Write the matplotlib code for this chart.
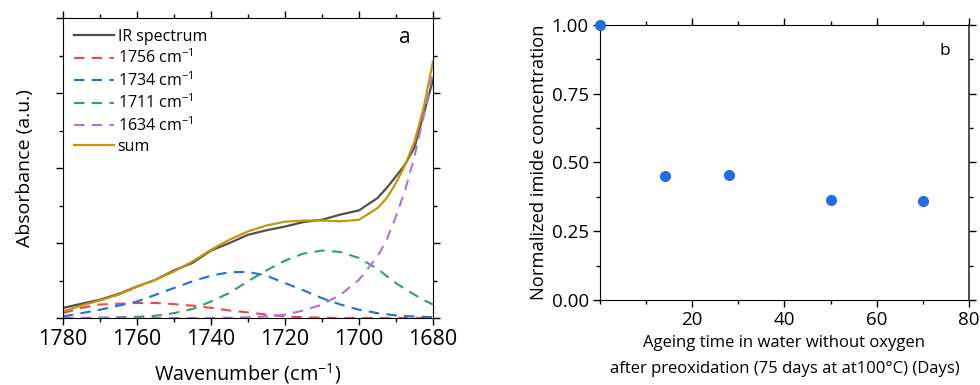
import matplotlib
matplotlib.use('Agg')
import matplotlib.pyplot as plt
from matplotlib.ticker import MultipleLocator, NullFormatter

plt.rcParams['font.family'] = ['Open Sans', 'DejaVu Sans']
plt.rcParams['mathtext.fontset'] = 'custom'
plt.rcParams['mathtext.rm'] = 'Open Sans'
plt.rcParams['mathtext.it'] = 'Open Sans'

# panel a: IR spectrum deconvolution (absorbance in arbitrary units)
wavenumber = [1780, 1775, 1770, 1765, 1760, 1755, 1750, 1745, 1740, 1735, 1730,
              1725, 1720, 1715, 1710, 1705, 1700, 1695, 1692.5, 1690, 1687.5,
              1685, 1682.5, 1680]
ir_spectrum = [0.27, 0.38, 0.49, 0.64, 0.84, 1.02, 1.27, 1.47, 1.80, 2.00, 2.22,
               2.34, 2.44, 2.56, 2.62, 2.76, 2.87, 3.20, 3.47, 3.78, 4.10,
               4.55, 5.45, 6.35]
peak_1756 = [0.13, 0.27, 0.36, 0.38, 0.40, 0.40, 0.37, 0.33, 0.27, 0.20, 0.15,
             0.09, 0.04, 0.02, 0.01, 0.0, 0.0, 0.0, 0.0, 0.0, 0.0,
             0.0, 0.0, 0.0]
peak_1734 = [0.04, 0.13, 0.22, 0.33, 0.44, 0.62, 0.80, 0.98, 1.13, 1.22, 1.23,
             1.13, 0.93, 0.74, 0.53, 0.36, 0.22, 0.13, 0.10, 0.07, 0.05,
             0.04, 0.03, 0.02]
peak_1711 = [0.0, 0.0, 0.01, 0.02, 0.03, 0.06, 0.13, 0.24, 0.44, 0.67, 0.98,
             1.27, 1.53, 1.72, 1.80, 1.76, 1.60, 1.31, 1.12, 0.93, 0.77,
             0.62, 0.48, 0.36]
peak_1634 = [0.0, 0.0, 0.0, 0.0, 0.0, 0.0, 0.0, 0.0, 0.0, 0.01, 0.02,
             0.04, 0.09, 0.20, 0.36, 0.62, 1.02, 1.64, 2.09, 2.71, 3.42,
             4.31, 5.38, 6.55]
fit_sum = [0.18, 0.33, 0.47, 0.62, 0.83, 1.02, 1.24, 1.51, 1.82, 2.09, 2.31,
           2.47, 2.57, 2.60, 2.60, 2.58, 2.62, 2.93, 3.20, 3.60, 4.09,
           4.70, 5.62, 6.84]

# panel b: normalized imide concentration
ageing_days = [0, 14, 28, 50, 70]
imide_conc = [1.0, 0.451, 0.456, 0.362, 0.361]

fig = plt.figure(figsize=(9.8, 3.85), dpi=100)
ax1 = fig.add_axes([0.0643, 0.174, 0.3775, 0.779])
ax2 = fig.add_axes([0.6122, 0.2208, 0.3766, 0.7143])

ax1.plot(wavenumber, ir_spectrum, color='#505050', lw=1.6, label='IR spectrum')
ax1.plot(wavenumber, peak_1756, color='#f04848', lw=1.5, dashes=(5, 3.5), label='1756 cm$^{-1}$')
ax1.plot(wavenumber, peak_1734, color='#1f6fe0', lw=1.5, dashes=(5, 3.5), label='1734 cm$^{-1}$')
ax1.plot(wavenumber, peak_1711, color='#2ea35e', lw=1.5, dashes=(5, 3.5), label='1711 cm$^{-1}$')
ax1.plot(wavenumber, peak_1634, color='#b070e0', lw=1.5, dashes=(5, 3.5), label='1634 cm$^{-1}$')
ax1.plot(wavenumber, fit_sum, color='#c8960a', lw=1.6, label='sum')

ax1.set_xlim(1780, 1680)
ax1.set_ylim(0, 8)
ax1.xaxis.set_major_locator(MultipleLocator(20))
ax1.xaxis.set_minor_locator(MultipleLocator(10))
ax1.yaxis.set_major_locator(MultipleLocator(2))
ax1.yaxis.set_minor_locator(MultipleLocator(1))
ax1.yaxis.set_major_formatter(NullFormatter())
ax1.tick_params(which='both', direction='out', top=True, right=True, width=1)
ax1.tick_params(which='major', length=5, labelsize=15.5, pad=3)
ax1.tick_params(which='minor', length=3)
ax1.set_xlabel('Wavenumber (cm$^{-1}$)', fontsize=14.3, labelpad=8)
ax1.set_ylabel('Absorbance (a.u.)', fontsize=14, labelpad=13)
ax1.text(0.925, 0.935, 'a', transform=ax1.transAxes, fontsize=15, ha='center', va='center')
ax1.legend(loc='upper left', bbox_to_anchor=(0.02, 0.975), frameon=False, fontsize=11.5,
           handlelength=2.5, handletextpad=0.25, labelspacing=0.24, borderpad=0.2,
           borderaxespad=0)

ax2.plot(ageing_days, imide_conc, 'o', color='#1f6fe0', ms=7, clip_on=False, zorder=5)
ax2.set_xlim(0, 80)
ax2.set_ylim(0, 1.0)
ax2.xaxis.set_major_locator(MultipleLocator(20))
ax2.xaxis.set_minor_locator(MultipleLocator(10))
ax2.yaxis.set_major_locator(MultipleLocator(0.25))
ax2.yaxis.set_minor_locator(MultipleLocator(0.125))
ax2.set_xticks([20, 40, 60, 80])
ax2.yaxis.set_major_formatter(plt.FormatStrFormatter('%.2f'))
ax2.tick_params(which='both', direction='out', top=True, right=True, width=1)
ax2.tick_params(which='major', length=5, labelsize=13.5, pad=3)
ax2.tick_params(which='minor', length=3)
ax2.spines['right'].set_color('#404040')
ax2.spines['right'].set_linewidth(1.3)
ax2.set_xlabel('Ageing time in water without oxygen\nafter preoxidation (75 days at at100°C) (Days)',
               fontsize=12, labelpad=4, linespacing=1.9)
ax2.set_ylabel('Normalized imide concentration', fontsize=13.2, labelpad=3)
ax2.text(0.935, 0.905, 'b', transform=ax2.transAxes, fontsize=12.5, ha='center', va='center')

fig.savefig('out.png', dpi=100)
